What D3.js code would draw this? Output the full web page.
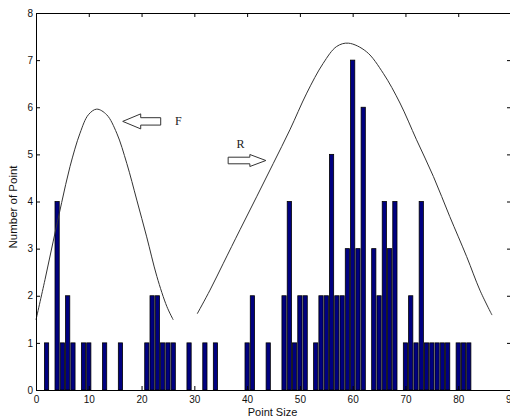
<!DOCTYPE html>
<html><head><meta charset="utf-8">
<script src="https://cdn.jsdelivr.net/npm/d3@7"></script>
<style>
html,body{margin:0;padding:0;background:#fff;}
svg{display:block;}
text{font-family:Arial,"Liberation Sans",sans-serif;}
text.serif{font-family:"Liberation Serif","Times New Roman",serif;}
</style></head>
<body>
<script>
// Histogram bars: point size -> number of points
const pointSizes = [2,4,5,6,7,9,10,13,16,21,22,23,24,25,26,29,32,34,40,41,44,47,48,49,50,51,53,54,55,56,57,58,59,60,61,62,64,65,66,67,68,70,71,72,73,74,75,76,77,78,80,81,82];
const counts     = [1,4,1,2,1,1,1,1,1,1,2,2,1,1,1,1,1,1,1,2,1,2,4,1,2,2,1,2,2,5,2,2,3,7,3,6,3,2,4,3,4,1,2,1,4,1,1,1,1,1,1,1,1];

// Envelope curve F
const curveFx = [0,1.7,3.27,4.87,6.44,8.34,9.92,11.5,13.4,15.3,17.2,19.1,20.97,22.9,24.8,26.0];
const curveFy = [1.49,2.34,3.16,3.98,4.74,5.45,5.84,5.96,5.84,5.45,4.81,4.03,3.25,2.41,1.77,1.49];
// Envelope curve R
const curveRx = [30.56,32.97,35.5,38.65,41.8,44.97,48.1,51.3,54.4,56.97,59.2,62.6,65.8,68.96,72.1,75.3,78.4,81.6,84.1,86.4];
const curveRy = [1.62,2.12,2.69,3.40,4.10,4.81,5.52,6.30,6.93,7.29,7.36,7.18,6.72,6.09,5.31,4.53,3.68,2.83,2.12,1.59];

const xTicks = [0,10,20,30,40,50,60,70,80,90];
const yTicks = [0,1,2,3,4,5,6,7,8];
const xLabel = "Point Size";
const yLabel = "Number of Point";
const labelF = "F";
const labelR = "R";

const W = 510, H = 419;
const svg = d3.select("body").append("svg").attr("width", W).attr("height", H);

const x = d3.scaleLinear().domain([0, 90]).range([36, 511]);
const y = d3.scaleLinear().domain([0, 8]).range([390, 13]);

// bars
const bars = pointSizes.map((p, i) => ({x: p, v: counts[i]}));
svg.append("g").selectAll("rect").data(bars).join("rect")
  .attr("x", d => x(d.x - 0.4))
  .attr("width", d => x(d.x + 0.4) - x(d.x - 0.4))
  .attr("y", d => y(d.v))
  .attr("height", d => y(0) - y(d.v))
  .attr("fill", "#000080")
  .attr("stroke", "#000")
  .attr("stroke-width", 0.8);

// curves
const line = d3.line().x(d => x(d[0])).y(d => y(d[1])).curve(d3.curveCatmullRom);
svg.append("path").datum(curveFx.map((v, i) => [v, curveFy[i]]))
  .attr("d", line).attr("fill", "none").attr("stroke", "#333").attr("stroke-width", 1);
svg.append("path").datum(curveRx.map((v, i) => [v, curveRy[i]]))
  .attr("d", line).attr("fill", "none").attr("stroke", "#333").attr("stroke-width", 1);

// axes (MATLAB style: ticks inside)
const fmt = d3.format("d");
svg.append("g").attr("transform", `translate(0,${y(0)})`)
  .call(d3.axisBottom(x).tickValues(xTicks).tickFormat(fmt).tickSizeInner(-4).tickSizeOuter(0).tickPadding(6))
  .call(g => g.selectAll("text").attr("font-size", 10).attr("fill", "#111"));
svg.append("g").attr("transform", `translate(0,${y(8)})`)
  .call(d3.axisTop(x).tickValues(xTicks).tickFormat("").tickSizeInner(-4).tickSizeOuter(0));
svg.append("g").attr("transform", `translate(${x(0)},0)`)
  .call(d3.axisLeft(y).tickValues(yTicks).tickFormat(fmt).tickSizeInner(-4).tickSizeOuter(0).tickPadding(3))
  .call(g => g.selectAll("text").attr("font-size", 10).attr("fill", "#111"));
svg.append("g").attr("transform", `translate(${x(90)},0)`)
  .call(d3.axisRight(y).tickValues(yTicks).tickFormat("").tickSizeInner(-4).tickSizeOuter(0));
svg.selectAll(".domain").attr("stroke", "#000");
svg.selectAll(".tick line").attr("stroke", "#000");

// axis labels
svg.append("text").attr("x", (x(0) + 509) / 2).attr("y", 416).attr("text-anchor", "middle")
  .attr("font-size", 11).attr("fill", "#111").text(xLabel);
svg.append("text").attr("transform", `translate(17,207) rotate(-90)`)
  .attr("text-anchor", "middle").attr("font-size", 11.5).attr("fill", "#111").text(yLabel);

// annotation arrows
function arrow(tipX, tipY, dir, headLen, totalLen, headHalf, shaftHalf) {
  // dir = -1 pointing left, +1 pointing right
  const b = tipX - dir * headLen, e = tipX - dir * totalLen;
  const pts = [[tipX, tipY], [b, tipY - headHalf], [b, tipY - shaftHalf], [e, tipY - shaftHalf],
               [e, tipY + shaftHalf], [b, tipY + shaftHalf], [b, tipY + headHalf]];
  svg.append("polygon").attr("points", pts.map(p => p.join(",")).join(" "))
    .attr("fill", "#fff").attr("stroke", "#333").attr("stroke-width", 1);
}
arrow(x(16.43), y(5.70), -1, 18, 38, 7.5, 3.7);
arrow(x(43.55), y(4.87), 1, 16, 37.7, 6, 3.3);

svg.append("text").attr("class", "serif").attr("x", 175).attr("y", 125)
  .attr("font-size", 12).attr("fill", "#222").text(labelF);
svg.append("text").attr("class", "serif").attr("x", 236.5).attr("y", 148.3)
  .attr("font-size", 12).attr("fill", "#222").text(labelR);
</script>
</body></html>
